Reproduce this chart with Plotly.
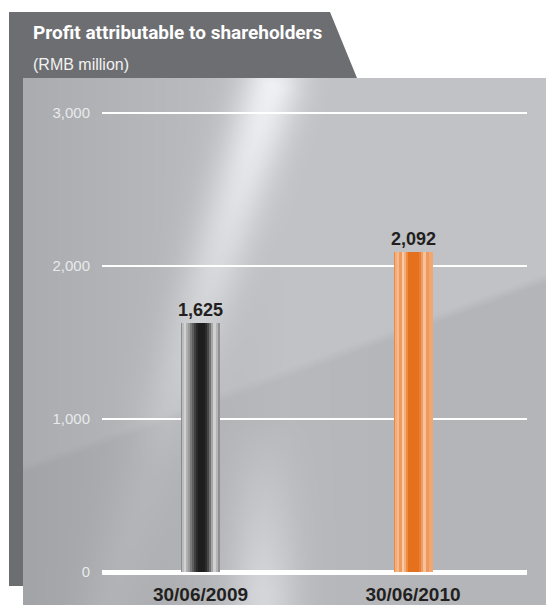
import math, zlib, struct, base64
import plotly.graph_objects as go

# ---------------- data ----------------
categories = ["30/06/2009", "30/06/2010"]
values = [1625, 2092]
y_ticks = [0, 1000, 2000, 3000]
title_text = "Profit attributable to shareholders"
unit_text = "(RMB million)"

# ---------------- geometry helpers (reference pixel -> paper) ----------------
OFF = 8  # page body margin
W, H = 554, 605
PL, PR, PT, PB = 102, 527, 111, 572       # plot box in reference pixels
L, R, T, B = PL - OFF, W - (PR - OFF), PT - OFF, H - (PB - OFF)
PW, PH = PR - PL, PB - PT
def px(X): return (X - PL) / PW
def py(Y): return (PB - Y) / PH

# ---------------- background panel image ----------------
def clamp(v, a=0.0, b=1.0): return max(a, min(b, v))
def shade(X, Y):
    v = 165 + 22 * clamp((X - 23) / 260)
    x0, y0, x1, y1 = 272, 85, 150, 470
    dx, dy = x1 - x0, y1 - y0
    ln = math.hypot(dx, dy)
    t = ((X - x0) * dx + (Y - y0) * dy) / (ln * ln)
    d = abs((X - x0) * dy - (Y - y0) * dx) / ln
    fade = clamp(1 - clamp(t) * 0.85) * clamp(1 + t * 6)
    v += 48 * math.exp(-(d / 30) ** 2) * fade
    yl = 470 - (X - 23) * 0.365
    e = clamp((yl - Y) / 10 + 0.5)
    v += 8 * e
    v -= 5 * (1 - e) * clamp((X - 250) / 200)
    v += 30 * math.exp(-((X - 262) / 34) ** 2) * clamp((Y - 420) / 170)
    v = clamp(v, 0, 250)
    return (int(v - 3), int(v - 1), int(v + 2))

IW, IH = 266, 264
X0, Y0, X1, Y1 = 23, 78, W + OFF, H + OFF
rows = []
for j in range(IH):
    Y = Y0 + (j + 0.5) * (Y1 - Y0) / IH
    row = bytearray([0])
    for i in range(IW):
        X = X0 + (i + 0.5) * (X1 - X0) / IW
        row.extend(shade(X, Y))
    rows.append(bytes(row))
def chunk(tag, data):
    return struct.pack(">I", len(data)) + tag + data + struct.pack(">I", zlib.crc32(tag + data) & 0xffffffff)
png = b"\x89PNG\r\n\x1a\n" + chunk(b"IHDR", struct.pack(">IIBBBBB", IW, IH, 8, 2, 0, 0, 0)) \
      + chunk(b"IDAT", zlib.compress(b"".join(rows), 9)) + chunk(b"IEND", b"")
bg_uri = "data:image/png;base64," + base64.b64encode(png).decode()

# ---------------- bar styling (cylinder stripes, px across a 39px bar) ----------------
BAR_PX = 39
unit = PW / 2.0
stripes = [
    [(0, 1.5, "#8c8c8c"), (1.5, 3, "#bcbcbc"), (3, 5, "#d2d2d2"), (5, 7, "#b0b0b0"),
     (7, 9, "#9a9a9a"), (9, 11, "#7a7a7a"), (11, 13, "#5e5e5e"), (13, 15, "#404040"),
     (15, 17, "#2a2a2a"), (17, 24, "#1e1e1e"), (24, 26, "#2c2c2c"), (26, 28, "#484848"),
     (28, 30, "#707070"), (30, 32, "#a6a6a6"), (32, 35, "#d0d0d0"), (35, 37, "#b4b4b4"),
     (37, 39, "#909090")],
    [(0, 2, "#ec8a45"), (2, 3.5, "#f2ae7c"), (3.5, 5, "#f5bb8f"), (5, 8, "#ee9a5a"),
     (8, 11, "#f8cca8"), (11, 12.5, "#f3ae7d"), (12.5, 14, "#ec8a46"), (14, 26, "#e5711d"),
     (26, 27.5, "#e97f37"), (27.5, 29, "#ef9c63"), (29, 32, "#f6c29c"), (32, 35, "#ef9960"),
     (35, 39, "#f2a670")],
]

fig = go.Figure()
for i, cat in enumerate(categories):
    for (a, b, col) in stripes[i]:
        fig.add_trace(go.Bar(
            x=[cat], y=[values[i]],
            width=(b - a + 0.3) / unit, offset=(a - BAR_PX / 2) / unit,
            marker=dict(color=col, line=dict(width=0)),
            hoverinfo="skip", showlegend=False))
fig.add_trace(go.Bar(
    x=categories, y=values, width=BAR_PX / unit,
    marker=dict(color="rgba(0,0,0,0)", line=dict(width=0)),
    texttemplate="<b>%{y:,}</b>", textposition="outside", cliponaxis=False,
    constraintext="none",
    textfont=dict(family="Liberation Sans, Arial, sans-serif", size=18, color="#231f20"),
    showlegend=False, hoverinfo="skip"))

x_lo = -(200.5 - PL) / unit
fig.update_layout(
    width=W, height=H, margin=dict(l=L, r=R, t=T, b=B, pad=0, autoexpand=False),
    barmode="overlay", bargap=0,
    paper_bgcolor="white", plot_bgcolor="rgba(0,0,0,0)",
    showlegend=False,
    xaxis=dict(range=[x_lo, x_lo + 2.0], showgrid=False, zeroline=False, showline=False,
               automargin=False,
               ticks="outside", ticklen=5, tickcolor="rgba(0,0,0,0)",
               tickfont=dict(family="Liberation Sans, Arial, sans-serif", size=19, color="#231f20", weight="bold"),
               fixedrange=True),
    yaxis=dict(range=[0, 3010], tickvals=y_ticks, tickformat=",", showgrid=True,
               automargin=False,
               gridcolor="white", gridwidth=2, zeroline=True, zerolinecolor="white",
               zerolinewidth=5, showline=False, ticks="outside", ticklen=8,
               tickcolor="rgba(0,0,0,0)",
               tickfont=dict(family="Liberation Sans, Arial, sans-serif", size=15, color="#e8eaec"),
               fixedrange=True),
    images=[dict(source=bg_uri, xref="paper", yref="paper", x=px(X0), y=py(Y0),
                 sizex=px(X1) - px(X0), sizey=py(Y0) - py(Y1), sizing="stretch",
                 xanchor="left", yanchor="top", layer="below")],
    shapes=[dict(type="path", xref="paper", yref="paper", layer="below",
                 path="M {},{} L {},{} L {},{} L {},{} L {},{} L {},{} Z".format(
                     px(9), py(12), px(330), py(12), px(357), py(78),
                     px(23), py(78), px(23), py(586), px(9), py(586)),
                 fillcolor="#6d6e71", line=dict(width=0))],
    annotations=[
        dict(text="<b>" + title_text + "</b>", xref="paper", yref="paper", x=px(31), y=py(33),
             xanchor="left", yanchor="middle", showarrow=False,
             font=dict(family="Roboto, Liberation Sans, sans-serif", size=19, color="white")),
        dict(text=unit_text, xref="paper", yref="paper", x=px(31), y=py(64),
             xanchor="left", yanchor="middle", showarrow=False,
             font=dict(family="Liberation Sans, Arial, sans-serif", size=16, color="#f2f2f2")),
    ],
)
fig.write_html("out.html")
